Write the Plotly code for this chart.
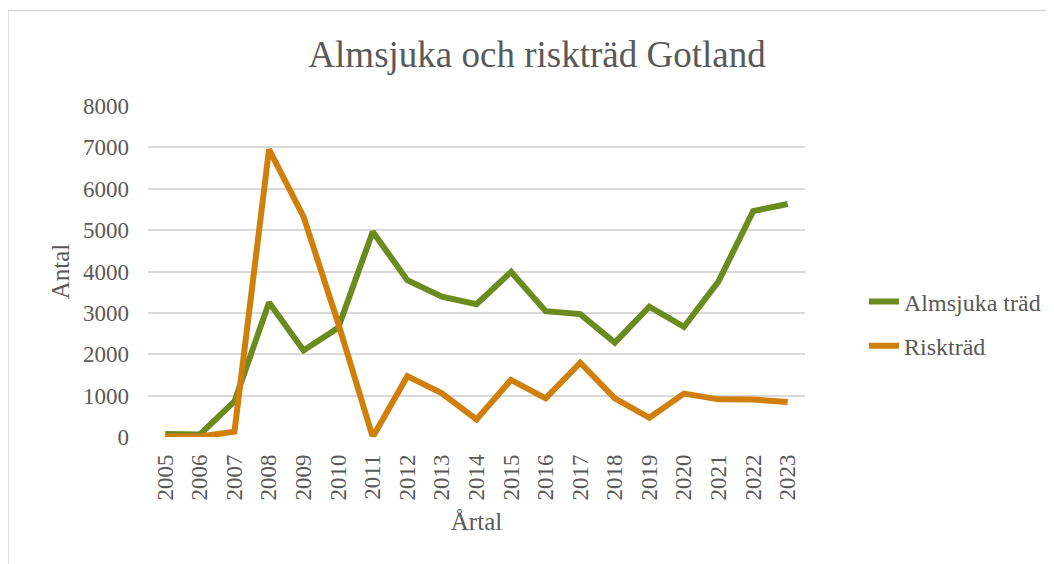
import plotly.graph_objects as go

years = [str(y) for y in range(2005, 2024)]
almsjuka = [70, 60, 860, 3250, 2090, 2640, 4960, 3790, 3390, 3210, 3990, 3040, 2970, 2280, 3150, 2660, 3760, 5460, 5630]
risktrad = [10, 10, 130, 6950, 5320, 2750, 0, 1470, 1055, 425, 1380, 935, 1795, 935, 465, 1050, 910, 905, 845]

title_text = "Almsjuka och riskträd Gotland"
series_names = ["Almsjuka träd", "Riskträd"]
colors = ["#6B8B1E", "#D07F0B"]

FONT = "Liberation Serif, Times New Roman, serif"
GRAY = "#595959"

# page offset (the page body adds a small margin around the figure)
OFF = 8

fig = go.Figure()
for name, vals, col, grp in [(series_names[0], almsjuka, colors[0], "a"),
                             (series_names[1], risktrad, colors[1], "b")]:
    fig.add_trace(go.Scatter(x=years, y=vals, mode="lines", name=name,
                             legendgroup=grp,
                             line=dict(color=col, width=6)))

W, H = 1054, 564
# plot area in page pixels: x 148..805, y 106..437
L, T = 148 - OFF, 106 - OFF
R = W - (805 - OFF)
B = H - (437 - OFF)
pw, ph = W - L - R, H - T - B

def px(xp):
    return (xp - OFF - L) / pw

def py(yp):
    return (H - B - (yp - OFF)) / ph

fig.update_layout(
    width=W, height=H,
    margin=dict(l=L, r=R, t=T, b=B),
    paper_bgcolor="white", plot_bgcolor="white",
    font=dict(family=FONT, color=GRAY, size=23),
    title=dict(text=title_text, x=(537 - OFF) / W, xanchor="center",
               y=1 - (54 - OFF) / H, yanchor="middle",
               font=dict(family=FONT, size=37, color=GRAY)),
    xaxis=dict(type="category", tickangle=-90, showgrid=False,
               showline=False, zeroline=False, ticks="",
               ticklabelstandoff=12,
               tickfont=dict(size=23, color=GRAY),
               title=dict(text="Årtal", font=dict(size=25, color=GRAY), standoff=12),
               range=[-0.5, 18.5]),
    yaxis=dict(range=[0, 8000], dtick=1000, showgrid=True,
               gridcolor="#D9D9D9", gridwidth=1.5, zeroline=False,
               showline=False, ticks="", ticklabelstandoff=18,
               tickfont=dict(size=23, color=GRAY),
               title=dict(text="Antal", font=dict(size=25, color=GRAY), standoff=6)),
    legend=dict(x=px(864), xanchor="left",
                y=py(324), yanchor="middle",
                font=dict(size=24, color=GRAY), tracegroupgap=10,
                bgcolor="rgba(0,0,0,0)"),
    shapes=[dict(type="rect", xref="paper", yref="paper",
                 x0=px(8), x1=px(1054 + 30),
                 y0=py(H + 30), y1=py(10.5),
                 line=dict(color="#D9D9D9", width=1.5), fillcolor="rgba(0,0,0,0)",
                 layer="below")],
)

fig.write_html("out.html")
